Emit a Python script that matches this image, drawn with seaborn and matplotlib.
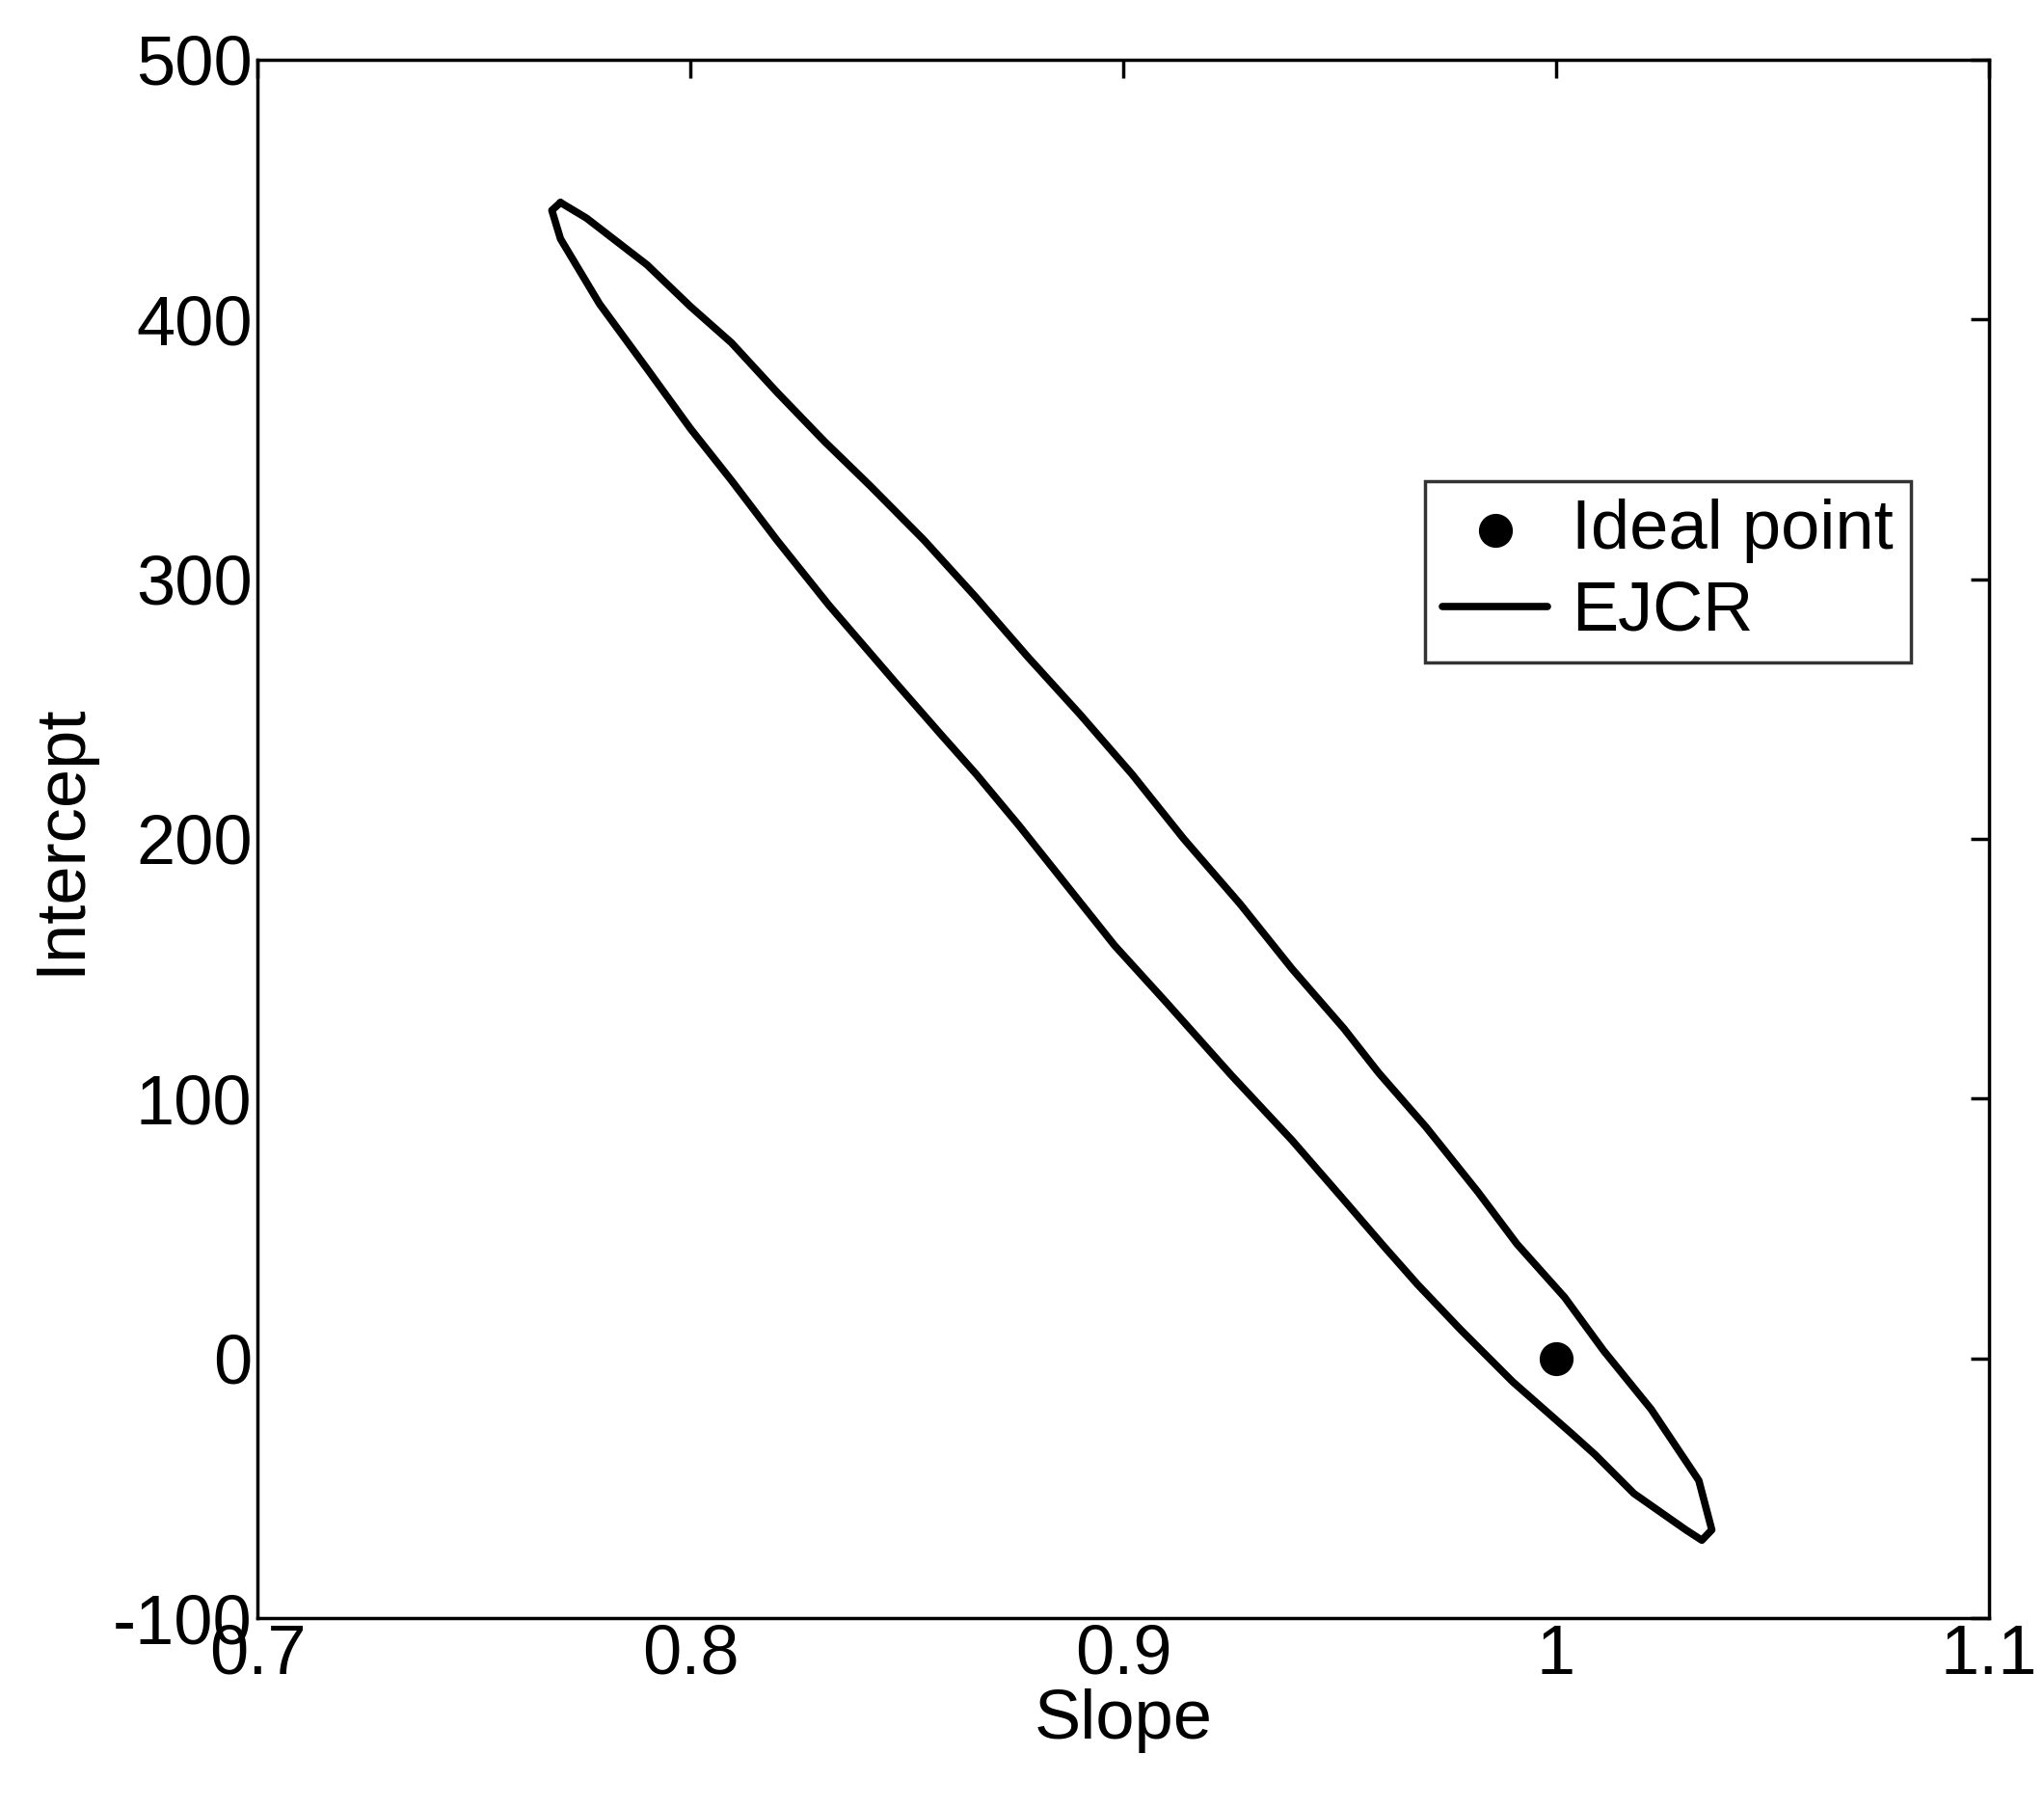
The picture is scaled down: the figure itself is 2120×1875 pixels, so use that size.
import numpy as np
import pandas as pd
import matplotlib
matplotlib.use("Agg")
import matplotlib.pyplot as plt
import seaborn as sns

# EJCR contour (slope, intercept), traced around the ellipse
ejcr_slope = [0.770, 0.776, 0.790, 0.800, 0.8095, 0.820, 0.831, 0.8415, 0.854, 0.866,
              0.878, 0.890, 0.902, 0.914, 0.927, 0.939, 0.951, 0.959, 0.970, 0.982,
              0.991, 1.002, 1.011, 1.022, 1.033, 1.036, 1.0337, 1.030,
              1.018, 1.009, 1.004, 0.990, 0.978, 0.968, 0.960, 0.951, 0.939, 0.925,
              0.910, 0.898, 0.887, 0.876, 0.866, 0.858, 0.8475, 0.832, 0.820, 0.8095,
              0.800, 0.790, 0.779, 0.770, 0.768, 0.770]
ejcr_intercept = [445, 439, 421, 405, 391, 372, 353, 336, 315, 293,
                  270, 248, 225, 200, 175, 150, 127, 110, 89, 64,
                  44, 23.5, 3, -19.6, -47, -66, -70, -66,
                  -52, -37, -29.5, -9, 11, 28.5, 43.6, 61, 84, 109,
                  137, 159, 182, 205, 225, 240, 260, 290, 315, 338,
                  358, 381, 406, 431, 442, 445]
ideal_slope = [1.0]
ideal_intercept = [0.0]

sns.set_style("white")
plt.rcParams['font.family'] = ['Liberation Sans', 'DejaVu Sans']
plt.rcParams['axes.unicode_minus'] = False
plt.rcParams['text.color'] = 'black'
plt.rcParams['axes.labelcolor'] = 'black'
plt.rcParams['xtick.color'] = 'black'
plt.rcParams['ytick.color'] = 'black'

fig = plt.figure(figsize=(21.2, 18.75), dpi=100)
ax = fig.add_axes([0.126, 0.105, 0.847, 0.862])

ejcr = pd.DataFrame({'slope': ejcr_slope, 'intercept': ejcr_intercept})
sns.scatterplot(x=ideal_slope, y=ideal_intercept, color='black', s=550,
                edgecolor='black', label='Ideal point', ax=ax, zorder=3)
sns.lineplot(data=ejcr, x='slope', y='intercept', sort=False, estimator=None,
             color='black', linewidth=5.5, label='EJCR', ax=ax)

ax.set_xlim(0.7, 1.1)
ax.set_ylim(-100, 500)
ax.set_xticks([0.7, 0.8, 0.9, 1.0, 1.1])
ax.set_xticklabels(['0.7', '0.8', '0.9', '1', '1.1'])
ax.set_yticks(range(-100, 501, 100))
ax.tick_params(axis='both', direction='in', length=14, width=2.5, labelsize=52,
               top=True, right=True, pad=4)
for s in ax.spines.values():
    s.set_linewidth(2.5)
    s.set_color('black')
ax.set_xlabel('Slope', fontsize=52, labelpad=0)
ax.set_ylabel('Intercept', fontsize=52, labelpad=14)

leg = ax.legend(loc='upper right', bbox_to_anchor=(0.975, 0.752), fontsize=52,
                frameon=True, fancybox=False, edgecolor='black',
                handlelength=1.5, borderpad=0.25, labelspacing=0.25, handletextpad=0.35)
leg.get_frame().set_linewidth(2.5)

fig.savefig('out.png', dpi=100)
